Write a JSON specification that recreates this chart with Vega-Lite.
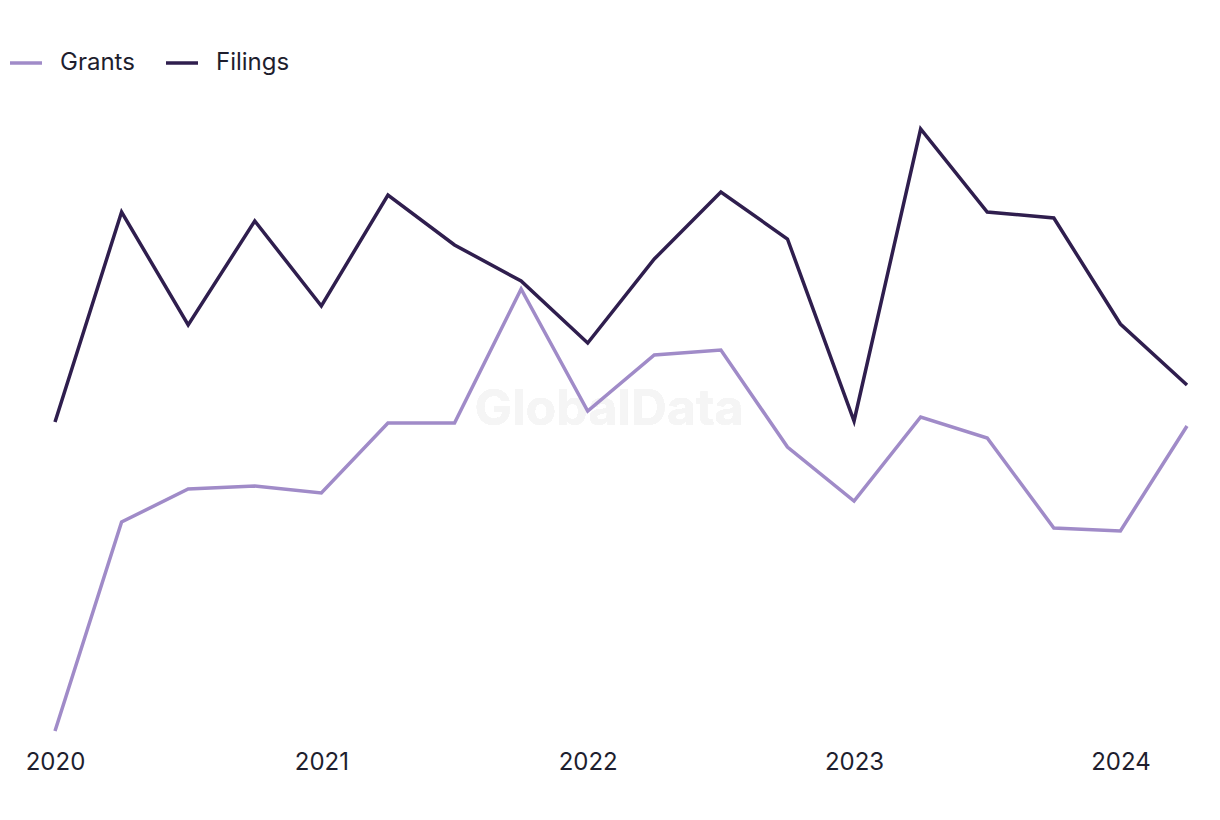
{
  "$schema": "https://vega.github.io/schema/vega-lite/v6.json",
  "autosize": {"type": "none"},
  "width": 1132,
  "height": 640,
  "padding": {"left": 55, "top": 100, "right": 33, "bottom": 80},
  "background": "white",
  "config": {"view": {"stroke": null}, "font": "Inter"},
  "data": {"values": [
    {"t": 2020.0, "series": "Filings", "v": 318},
    {"t": 2020.25, "series": "Filings", "v": 528},
    {"t": 2020.5, "series": "Filings", "v": 415},
    {"t": 2020.75, "series": "Filings", "v": 519},
    {"t": 2021.0, "series": "Filings", "v": 434},
    {"t": 2021.25, "series": "Filings", "v": 545},
    {"t": 2021.5, "series": "Filings", "v": 495},
    {"t": 2021.75, "series": "Filings", "v": 459},
    {"t": 2022.0, "series": "Filings", "v": 397},
    {"t": 2022.25, "series": "Filings", "v": 481},
    {"t": 2022.5, "series": "Filings", "v": 548},
    {"t": 2022.75, "series": "Filings", "v": 501},
    {"t": 2023.0, "series": "Filings", "v": 319},
    {"t": 2023.25, "series": "Filings", "v": 611},
    {"t": 2023.5, "series": "Filings", "v": 528},
    {"t": 2023.75, "series": "Filings", "v": 522},
    {"t": 2024.0, "series": "Filings", "v": 416},
    {"t": 2024.25, "series": "Filings", "v": 355},
    {"t": 2020.0, "series": "Grants", "v": 9},
    {"t": 2020.25, "series": "Grants", "v": 218},
    {"t": 2020.5, "series": "Grants", "v": 251},
    {"t": 2020.75, "series": "Grants", "v": 254},
    {"t": 2021.0, "series": "Grants", "v": 247},
    {"t": 2021.25, "series": "Grants", "v": 317},
    {"t": 2021.5, "series": "Grants", "v": 317},
    {"t": 2021.75, "series": "Grants", "v": 451},
    {"t": 2022.0, "series": "Grants", "v": 329},
    {"t": 2022.25, "series": "Grants", "v": 385},
    {"t": 2022.5, "series": "Grants", "v": 390},
    {"t": 2022.75, "series": "Grants", "v": 293},
    {"t": 2023.0, "series": "Grants", "v": 239},
    {"t": 2023.25, "series": "Grants", "v": 323},
    {"t": 2023.5, "series": "Grants", "v": 302},
    {"t": 2023.75, "series": "Grants", "v": 212},
    {"t": 2024.0, "series": "Grants", "v": 209},
    {"t": 2024.25, "series": "Grants", "v": 314}
  ]},
  "layer": [
    {
      "mark": {"type": "text", "text": "GlobalData", "font": "Inter", "fontWeight": "bold", "fontSize": 50, "color": "#f5f5f5", "align": "center", "baseline": "middle"},
      "encoding": {
        "x": {
          "datum": 2022.08, "type": "quantitative",
          "axis": {
            "title": null, "values": [2020, 2021, 2022, 2023, 2024], "format": "d",
            "domain": false, "ticks": false, "grid": false, "labelFlush": false,
            "labelFontSize": 24, "labelColor": "#1e1e2e", "labelPadding": 10, "labelFont": "Inter"
          }
        },
        "y": {"datum": 330, "type": "quantitative", "axis": null}
      }
    },
    {
      "mark": {"type": "line", "strokeWidth": 3.5},
      "encoding": {
        "x": {
          "field": "t", "type": "quantitative",
          "scale": {"domain": [2020, 2024.25], "nice": false, "zero": false},
          "axis": {
            "title": null, "values": [2020, 2021, 2022, 2023, 2024], "format": "d",
            "domain": false, "ticks": false, "grid": false, "labelFlush": false,
            "labelFontSize": 24, "labelColor": "#1e1e2e", "labelPadding": 10, "labelFont": "Inter"
          }
        },
        "y": {
          "field": "v", "type": "quantitative",
          "scale": {"domain": [0, 640], "nice": false, "zero": false},
          "axis": null
        },
        "color": {
          "field": "series", "type": "nominal",
          "scale": {"domain": ["Grants", "Filings"], "range": ["#a08bc8", "#2f1e4e"]},
          "legend": {
            "title": null, "orient": "none", "direction": "horizontal",
            "legendX": -47, "legendY": -55,
            "symbolType": "stroke", "symbolSize": 1024, "symbolStrokeWidth": 3.5,
            "labelFontSize": 24, "labelColor": "#1e1e2e", "labelFont": "Inter",
            "labelOffset": 16, "columnPadding": 24
          }
        }
      }
    }
  ]
}
